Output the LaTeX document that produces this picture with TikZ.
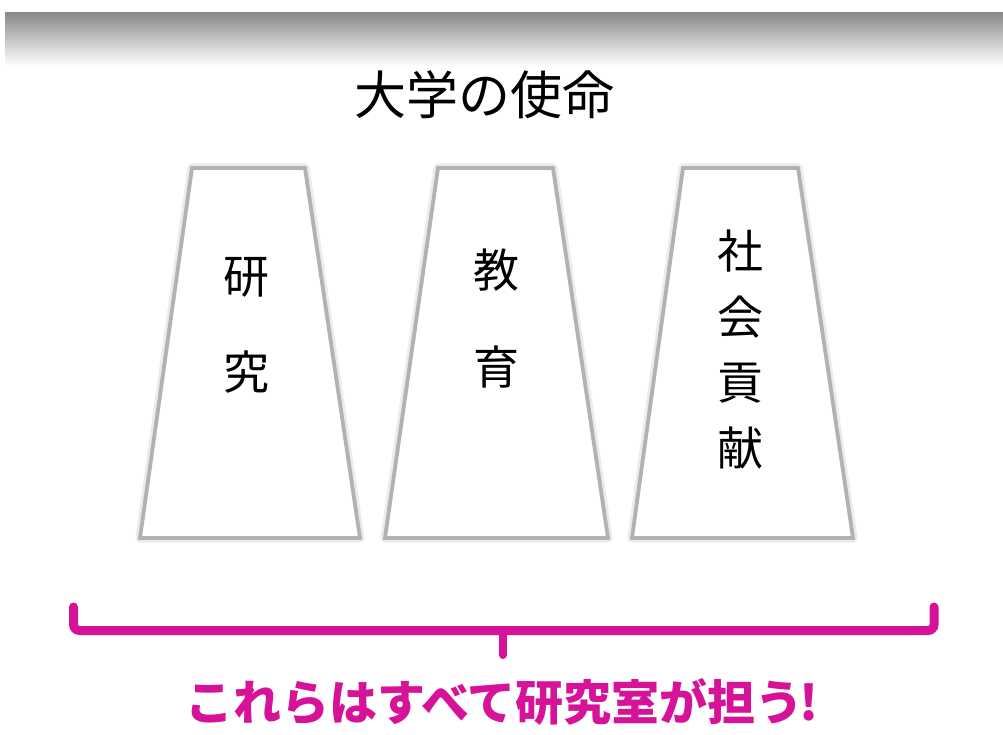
\documentclass[tikz,border=0pt]{standalone}
\usepackage{fontspec}
\newfontfamily\cjk{Noto Sans CJK JP}
\definecolor{pillar}{RGB}{178,178,178}
\definecolor{brk}{RGB}{214,18,152}
\definecolor{band}{RGB}{138,138,138}
\tikzset{
  pillarbox/.style={draw=pillar, line width=3.8pt, fill=white, line join=miter},
  shadowbox/.style={draw=black!8, line width=9pt, line join=round},
  pchar/.style={font=\cjk\fontsize{46}{46}\selectfont, inner sep=0pt},
  bracket/.style={draw=brk, line width=9pt, rounded corners=6pt, line cap=round},
}
\begin{document}
\begin{tikzpicture}[x=1pt,y=-1pt]
\useasboundingbox (0,0) rectangle (1003,735);
\fill[white] (0,0) rectangle (1003,735);
% top gradient band
\shade[top color=band, bottom color=white] (5,13) rectangle (1003,66);
% title
\node[font=\cjk\fontsize{52}{52}\selectfont, inner sep=0pt] (title) at (484,95) {大学の使命};
% pillars
\foreach \a/\b/\c/\d [count=\i] in {192/305/140/360, 438/553/385/608, 683/798/632/853}{
  \draw[shadowbox] (\a,168) -- (\b,168) -- (\d,538) -- (\c,538) -- cycle;
  \draw[pillarbox] (\a,168) -- (\b,168) -- (\d,538) -- (\c,538) -- cycle;
}
% pillar texts
\node[pchar] (k1) at (246,277) {研};
\node[pchar] (k2) at (246,372) {究};
\node[pchar] (e1) at (496,270) {教};
\node[pchar] (e2) at (496,367) {育};
\node[pchar] (s1) at (740,251) {社};
\node[pchar] (s2) at (740,317) {会};
\node[pchar] (s3) at (740,383) {貢};
\node[pchar] (s4) at (740,448) {献};
% bracket
\coordinate (bl) at (73.5,607);
\coordinate (br) at (934,607);
\coordinate (bm) at (503,630.5);
\coordinate (bt) at (503,655);
\draw[bracket] (bl) -- (73.5,630.5) -- (934,630.5) -- (br);
\draw[draw=brk, line width=8pt, line cap=round] (bm) -- (bt);
% bottom message
\node[font=\cjk\bfseries\fontsize{48}{48}\selectfont, text=brk, inner sep=0pt] (msg) at (502,702) {これらはすべて研究室が担う\kern-4pt!};
\end{tikzpicture}
\end{document}
